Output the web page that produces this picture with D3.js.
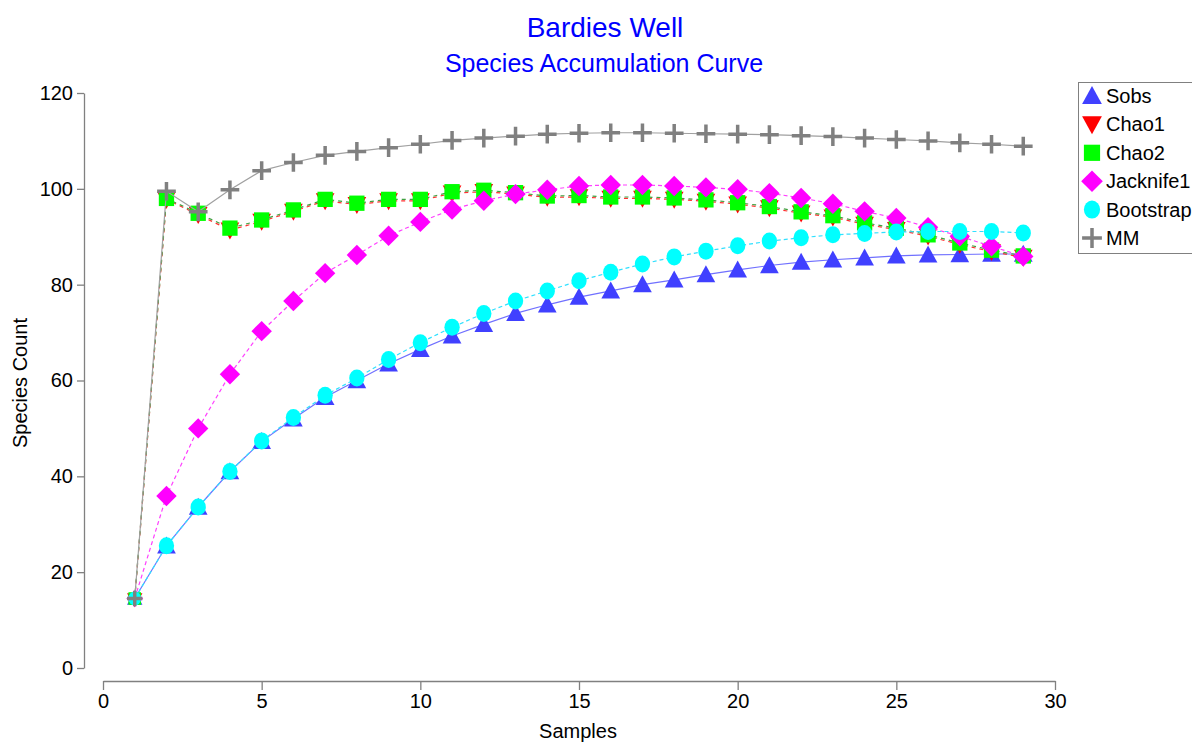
<!DOCTYPE html>
<html><head><meta charset="utf-8">
<script src="https://cdn.jsdelivr.net/npm/d3@7"></script>
<style>
html,body{margin:0;padding:0;background:#fff;overflow:hidden;}
svg{display:block;font-family:"Liberation Sans",Arial,sans-serif;}
</style></head>
<body>
<svg id="chart" width="1192" height="742"></svg>
<script>
const samples = d3.range(1, 30);
const sobs = [14.5, 25.5, 33.6, 41.0, 47.3, 52.0, 56.5, 60.0, 63.5, 66.5, 69.3, 71.7, 74.0, 75.8, 77.4, 78.7, 80.0, 81.0, 82.1, 83.1, 84.0, 84.7, 85.2, 85.6, 86.0, 86.2, 86.3, 86.4, 86.4];
const chao1 = [14.3, 97.8, 94.6, 91.4, 93.2, 95.3, 97.5, 96.7, 97.5, 97.5, 99.1, 99.4, 98.9, 98.2, 98.3, 98.0, 98.0, 97.8, 97.4, 96.8, 96.0, 94.9, 94.1, 92.6, 91.5, 90.1, 88.4, 86.9, 85.7];
const chao2 = [14.5, 98.0, 94.9, 91.8, 93.5, 95.6, 97.8, 97.0, 97.8, 97.8, 99.4, 99.7, 99.2, 98.5, 98.6, 98.3, 98.3, 98.1, 97.7, 97.1, 96.3, 95.2, 94.4, 92.9, 91.8, 90.4, 88.7, 87.2, 86.0];
const jack1 = [14.5, 35.9, 50.0, 61.3, 70.3, 76.6, 82.4, 86.2, 90.2, 93.1, 95.7, 97.5, 98.9, 99.8, 100.6, 100.8, 100.8, 100.6, 100.3, 99.9, 99.1, 98.1, 96.9, 95.3, 93.9, 92.0, 90.1, 88.0, 85.9];
const bootstrap = [14.5, 25.5, 33.6, 41.0, 47.4, 52.3, 56.9, 60.5, 64.4, 67.9, 71.1, 74.0, 76.6, 78.7, 80.8, 82.6, 84.3, 85.8, 87.0, 88.1, 89.1, 89.8, 90.4, 90.7, 91.0, 91.1, 91.1, 91.1, 90.8];
const mm = [14.5, 99.5, 95.2, 99.8, 103.8, 105.5, 107.0, 107.8, 108.6, 109.3, 110.1, 110.6, 111.0, 111.4, 111.6, 111.7, 111.7, 111.6, 111.5, 111.4, 111.3, 111.1, 110.9, 110.6, 110.3, 110.0, 109.6, 109.3, 108.9];
const seriesNames = ["Sobs", "Chao1", "Chao2", "Jacknife1", "Bootstrap", "MM"];
const xTicks = [0, 5, 10, 15, 20, 25, 30];
const yTicks = [0, 20, 40, 60, 80, 100, 120];

const series = [
  {name: seriesNames[0], values: sobs, color: "#4040ff", line: "#7070ff", dash: null, sym: "up"},
  {name: seriesNames[1], values: chao1, color: "#ff0000", line: "#ff3030", dash: "4,4", sym: "down"},
  {name: seriesNames[2], values: chao2, color: "#00ff00", line: "#40a040", dash: "4,4", sym: "square"},
  {name: seriesNames[3], values: jack1, color: "#ff00ff", line: "#ff40ff", dash: "4,3", sym: "diamond"},
  {name: seriesNames[4], values: bootstrap, color: "#00ffff", line: "#30e0ff", dash: "4,3", sym: "circle"},
  {name: seriesNames[5], values: mm, color: "#808080", line: "#a0a0a0", dash: null, sym: "plus"}
];

const svg = d3.select("#chart");
const x = d3.scaleLinear().domain([0, 30]).range([103, 1055]);
const y = d3.scaleLinear().domain([0, 120]).range([668, 93]);

// Titles
svg.append("text").attr("x", 605).attr("y", 37).attr("text-anchor", "middle")
  .attr("fill", "#0000ff").style("font-size", "28px").text("Bardies Well");
svg.append("text").attr("x", 604).attr("y", 72).attr("text-anchor", "middle")
  .attr("fill", "#0000ff").style("font-size", "25px").text("Species Accumulation Curve");

// Axes
const yAxis = d3.axisLeft(y).tickValues(yTicks).tickSize(7).tickPadding(4).tickSizeOuter(0);
const gy = svg.append("g").attr("transform", "translate(84,0)").call(yAxis);
const xAxis = d3.axisBottom(x).tickValues(xTicks).tickSize(9).tickPadding(4).tickSizeOuter(0);
const gx = svg.append("g").attr("transform", "translate(0,681)").call(xAxis);
[gx, gy].forEach(g => {
  g.select(".domain").attr("stroke", "#808080").attr("stroke-width", 1.3);
  g.selectAll(".tick line").attr("stroke", "#808080").attr("stroke-width", 1.3);
  g.selectAll(".tick text").attr("fill", "#000").style("font-size", "20px").style("font-family", "'Liberation Sans',Arial,sans-serif");
});

svg.append("text").attr("x", 578).attr("y", 738).attr("text-anchor", "middle")
  .style("font-size", "20px").attr("fill", "#000").text("Samples");
svg.append("text").attr("transform", "translate(27,383) rotate(-90)").attr("text-anchor", "middle")
  .style("font-size", "20px").attr("fill", "#000").text("Species Count");

// Symbol drawing
function drawSym(g, sym, color, size) {
  const s = size;
  if (sym === "up") {
    g.append("path").attr("d", `M0,${-s*0.55} L${s*0.55},${s*0.45} L${-s*0.55},${s*0.45} Z`).attr("fill", color);
  } else if (sym === "down") {
    g.append("path").attr("d", `M0,${s*0.55} L${s*0.55},${-s*0.45} L${-s*0.55},${-s*0.45} Z`).attr("fill", color);
  } else if (sym === "square") {
    g.append("rect").attr("x", -s*0.45).attr("y", -s*0.45).attr("width", s*0.9).attr("height", s*0.9).attr("fill", color);
  } else if (sym === "diamond") {
    g.append("path").attr("d", `M0,${-s*0.6} L${s*0.6},0 L0,${s*0.6} L${-s*0.6},0 Z`).attr("fill", color);
  } else if (sym === "circle") {
    g.append("ellipse").attr("rx", s*0.45).attr("ry", s*0.5).attr("fill", color);
  } else if (sym === "plus") {
    g.append("path").attr("d", `M${-s*0.55},0 H${s*0.55} M0,${-s*0.55} V${s*0.55}`)
      .attr("stroke", color).attr("stroke-width", 3.5).attr("fill", "none");
  }
}

const line = d3.line().x((d, i) => x(samples[i])).y(d => y(d));

series.forEach(s => {
  const g = svg.append("g");
  g.append("path").datum(s.values).attr("d", line).attr("fill", "none")
    .attr("stroke", s.line).attr("stroke-width", 1.2)
    .attr("stroke-dasharray", s.dash);
  s.values.forEach((v, i) => {
    const m = g.append("g").attr("transform", `translate(${x(samples[i])},${y(v)})`);
    drawSym(m, s.sym, s.color, i === 0 ? 14 : 17);
  });
});

// Legend
const lg = svg.append("g");
lg.append("rect").attr("x", 1078.5).attr("y", 82.5).attr("width", 130).attr("height", 171)
  .attr("fill", "#fff").attr("stroke", "#808080").attr("stroke-width", 1);
series.forEach((s, i) => {
  const cy = 96 + i * 28.4;
  const m = lg.append("g").attr("transform", `translate(1092,${cy})`);
  drawSym(m, s.sym, s.color, 18);
  lg.append("text").attr("x", 1106).attr("y", cy + 7).style("font-size", "20px")
    .attr("fill", "#000").text(s.name);
});
</script>
</body></html>
